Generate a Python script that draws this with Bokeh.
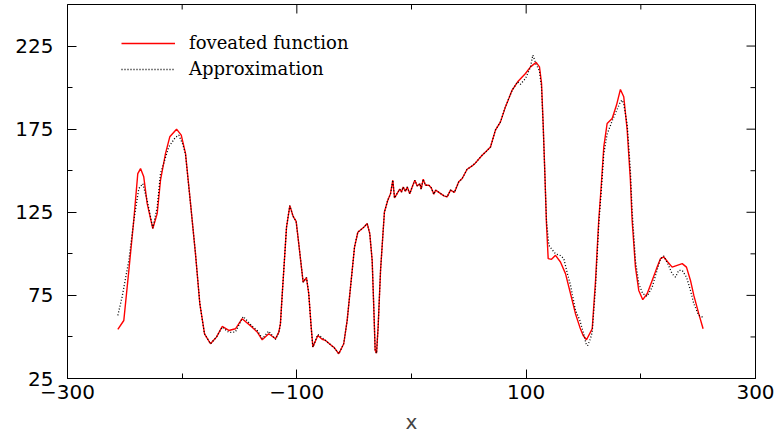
import math
from bokeh.plotting import figure
from bokeh.models import Range1d, FixedTicker
from bokeh.embed import file_html
from bokeh.resources import INLINE

# foveated function (red solid)
fov_x = [-256.1, -250.9, -246.5, -242.2, -238.7, -236.3, -233.5, -230.5, -225.6, -221.8,
         -218.9, -214.5, -210.8, -204.9, -200.8, -197.1, -192.7, -188.4, -184.6, -180.5,
         -175.3, -170.1, -165.1, -159.3, -153.5, -147.7, -139.0, -134.6, -130.2, -124.5,
         -118.6, -115.7, -114.3, -112.8, -111.4, -109.0, -106.1, -103.2, -100.6, -98.3,
         -96.0, -94.5, -91.6, -89.6, -87.5, -86.0, -81.7, -77.9, -75.0, -69.2,
         -67.8, -63.4, -59.1, -56.1, -52.6, -49.7, -46.8, -41.6, -38.6, -36.4,
         -34.3, -32.9, -31.7, -30.5, -29.1, -27.0, -24.7, -23.6, -20.7, -18.3,
         -16.3, -14.8, -12.6, -10.3, -8.7, -7.3, -5.2, -3.7, -1.5, 0.6,
         2.9, 5.0, 7.3, 8.4, 10.2, 12.2, 15.1, 17.2, 19.5, 21.0,
         23.9, 28.3, 31.1, 34.0, 37.5, 41.2, 44.2, 48.5, 52.9, 55.8,
         61.6, 65.0, 68.9, 73.2, 77.6, 81.9,
         87.8, 92.6, 99.4, 103.8, 108.7, 111.6, 113.4, 114.8, 116.3, 117.7,
         119.2, 122.1, 125.6, 129.9, 134.3, 138.7, 143.0, 146.8, 149.7, 152.6,
         156.1, 157.6, 160.5, 163.3, 165.4, 167.7, 170.6, 175.0, 178.8, 182.2,
         185.1, 188.1, 190.9, 192.4, 195.3, 198.2, 201.7, 205.5, 209.9, 213.7,
         217.1, 220.0, 223.5, 227.3, 231.7, 236.1, 239.8, 243.3, 246.2, 250.5,
         254.3]
fov_y = [54.5, 59.9, 90.0, 120.2, 148.3, 151.3, 146.3, 130.2, 115.2, 124.2,
         144.3, 160.4, 170.4, 175.0, 171.4, 160.4, 130.2, 100.1, 70.0, 51.9,
         45.9, 49.9, 56.3, 53.9, 54.9, 61.0, 55.9, 53.0, 48.3, 51.9,
         48.9, 52.9, 58.0, 75.0, 90.0, 116.0, 129.0, 122.5, 119.5, 106.0,
         92.0, 83.0, 85.7, 76.0, 56.0, 43.9, 50.9, 48.6, 47.9, 44.5,
         43.9, 39.9, 45.9, 60.0, 84.0, 104.0, 113.0, 116.0, 118.2, 112.2,
         96.0, 68.0, 42.0, 40.2, 56.0, 90.0, 114.0, 125.2, 132.2, 136.2,
         144.3, 133.6, 136.2, 138.9, 137.2, 140.2, 137.6, 140.2, 136.2, 140.2,
         144.3, 140.8, 142.2, 138.9, 144.9, 141.3, 141.3, 139.8, 135.8, 138.3,
         137.0, 134.9, 134.3, 138.3, 137.0, 143.3, 145.3, 150.9, 152.9, 154.7,
         159.3, 161.5, 164.3, 174.4, 179.4, 188.4,
         198.5, 203.5, 208.5, 212.5, 215.2, 212.5, 202.5, 178.4, 148.3, 118.2,
         97.1, 96.7, 99.1, 95.1, 88.1, 76.0, 64.0, 55.9, 50.9, 48.3,
         52.9, 54.9, 84.0, 120.2, 140.2, 164.3, 178.4, 181.4, 189.5, 198.9,
         194.5, 174.4, 144.3, 120.2, 92.0, 78.0, 72.4, 76.0, 84.0, 91.1,
         97.1, 98.1, 95.1, 92.0, 93.1, 94.1, 92.0, 84.0, 75.0, 64.0,
         54.9]

# approximation (black dotted)
app_x = [-256.1, -252.4, -246.5, -242.2, -237.8, -234.3, -230.5, -225.6, -221.8, -218.9,
         -211.7, -206.0, -202.9, -199.5, -197.1, -192.7, -188.4, -184.6, -180.5, -175.3,
         -170.1, -165.1, -159.3, -153.5, -146.8, -139.0, -134.6, -130.0, -124.5, -118.6,
         -115.7, -114.3, -112.8, -111.4, -109.0, -106.1, -103.2, -100.6, -98.3, -96.0,
         -94.5, -91.6, -89.6, -87.5, -86.0, -81.7, -77.9, -75.0, -69.2, -67.8,
         -63.4, -59.1, -56.1, -52.6, -49.7, -46.8, -41.6, -38.6, -36.4, -34.3,
         -32.9, -31.7, -30.5, -29.1, -27.0, -24.7, -23.6, -20.7, -18.3, -16.3,
         -14.8, -12.6, -10.3, -8.7, -7.3, -5.2, -3.7, -1.5, 0.6, 2.9,
         5.0, 7.3, 8.4, 10.2, 12.2, 15.1, 17.2, 19.5, 21.0, 23.9,
         28.3, 31.1, 34.0, 37.5, 41.2, 44.2, 48.5, 52.9, 55.8, 61.6,
         65.0, 68.9, 73.2, 77.6, 81.9, 87.8,
         92.6, 95.0, 99.4, 103.8, 105.8, 108.7, 111.6, 113.4, 114.8, 116.3,
         117.7, 119.8, 122.1, 125.6, 129.9, 132.8, 136.0, 138.7, 143.0, 146.8,
         149.7, 152.6, 153.7, 156.1, 157.6, 160.5, 163.3, 165.4, 167.7, 170.6,
         175.0, 178.8, 182.2, 183.7, 185.1, 188.1, 190.9, 192.4, 195.3, 198.2,
         201.7, 205.5, 209.9, 213.7, 217.1, 220.0, 223.5, 227.3, 230.2, 233.0,
         236.1, 239.8, 243.3, 246.2, 250.5, 254.9]
app_y = [63.0, 74.0, 96.0, 120.0, 139.3, 142.2, 132.0, 115.5, 128.0, 148.3,
         164.3, 170.0, 171.4, 166.0, 160.0, 130.2, 100.1, 70.0, 51.9, 45.9,
         49.9, 55.9, 52.7, 53.0, 62.3, 56.5, 53.9, 49.0, 53.5, 48.5,
         52.7, 58.0, 75.0, 90.0, 116.0, 129.0, 122.5, 119.5, 106.0, 92.0,
         83.0, 85.7, 76.0, 56.0, 43.9, 51.5, 49.5, 47.9, 44.5, 43.9,
         39.9, 45.9, 60.0, 84.0, 104.0, 113.0, 116.0, 118.2, 112.2, 96.0,
         68.0, 42.0, 40.2, 56.0, 90.0, 114.0, 125.2, 132.2, 136.2, 144.3,
         133.6, 136.2, 138.9, 137.2, 140.2, 137.6, 140.2, 136.2, 140.2, 144.3,
         140.8, 142.2, 138.9, 144.9, 141.3, 141.3, 139.8, 135.8, 138.3, 137.0,
         134.9, 134.3, 138.3, 137.0, 143.3, 145.3, 150.9, 152.9, 154.7, 159.3,
         161.5, 164.3, 174.4, 179.4, 188.4, 198.5,
         203.5, 202.0, 205.5, 212.5, 219.6, 214.0, 210.0, 200.0, 178.0, 148.0,
         120.0, 105.1, 103.0, 100.0, 99.0, 97.1, 88.0, 81.0, 66.0, 60.0,
         53.0, 44.9, 44.9, 49.0, 53.0, 80.0, 118.0, 137.0, 160.0, 172.0,
         180.0, 186.0, 191.5, 192.5, 190.0, 178.0, 150.0, 126.0, 96.0, 82.0,
         76.0, 74.5, 80.0, 89.0, 97.0, 98.7, 94.0, 88.0, 86.0, 90.0,
         90.0, 86.0, 78.0, 70.0, 63.0, 61.6]

x_major = [-300, -100, 100, 300]
x_minor = [-200, 0, 200]
y_major = [25, 75, 125, 175, 225]
y_minor = [50, 100, 150, 200]
x_labels = {-300: "\u2212300", -100: "\u2212100", 100: "100", 300: "300"}
X_LIM = (-300, 300)
Y_LIM = (25, 250)

p = figure(width=777, height=438, output_backend="svg", toolbar_location=None,
           x_range=Range1d(*X_LIM), y_range=Range1d(*Y_LIM),
           min_border_left=67, min_border_right=22, min_border_top=4, min_border_bottom=60,
           x_axis_label="x")
p.grid.visible = False
p.outline_line_color = "black"
p.outline_line_width = 1
p.background_fill_color = "white"
p.border_fill_color = "white"

p.xaxis.ticker = FixedTicker(ticks=x_major, minor_ticks=x_minor)
p.yaxis.ticker = FixedTicker(ticks=y_major, minor_ticks=y_minor)
for ax in (p.xaxis[0], p.yaxis[0]):
    ax.axis_line_color = "black"
    ax.major_tick_line_color = "black"
    ax.minor_tick_line_color = "black"
    ax.major_tick_in = 9
    ax.major_tick_out = 0
    ax.minor_tick_in = 5
    ax.minor_tick_out = 0
    ax.major_label_text_font = "DejaVu Sans"
    ax.major_label_text_font_size = "20px"
    ax.major_label_text_color = "black"
p.xaxis.major_label_overrides = x_labels
p.xaxis.major_label_standoff = 6
p.yaxis.major_label_standoff = 14
p.xaxis.axis_label_text_font = "DejaVu Sans"
p.xaxis.axis_label_text_font_size = "20px"
p.xaxis.axis_label_text_font_style = "normal"
p.xaxis.axis_label_standoff = 8

# mirrored inward ticks on top and right frame edges (no labels)
p.ray(x=x_major, y=[Y_LIM[1]] * len(x_major), length=9, angle=-math.pi / 2,
      length_units="screen", line_color="black", line_width=1)
p.ray(x=x_minor, y=[Y_LIM[1]] * len(x_minor), length=5, angle=-math.pi / 2,
      length_units="screen", line_color="black", line_width=1)
p.ray(x=[X_LIM[1]] * len(y_major), y=y_major, length=9, angle=math.pi,
      length_units="screen", line_color="black", line_width=1)
p.ray(x=[X_LIM[1]] * len(y_minor), y=y_minor, length=5, angle=math.pi,
      length_units="screen", line_color="black", line_width=1)

p.line(fov_x, fov_y, line_color="red", line_width=1.4, legend_label="foveated function")
p.line(app_x, app_y, line_color="black", line_width=1.3, line_dash="1 2",
       legend_label="Approximation")

lg = p.legend[0]
lg.location = (54, 299)
lg.glyph_width = 54
lg.glyph_height = 20
lg.label_height = 20
lg.label_standoff = 14
lg.padding = 0
lg.margin = 0
lg.spacing = 5
lg.border_line_alpha = 0
lg.background_fill_alpha = 0
lg.label_text_font = "DejaVu Serif"
lg.label_text_font_size = "18px"
lg.label_text_color = "black"

open("out.html", "w").write(file_html(p, INLINE))
